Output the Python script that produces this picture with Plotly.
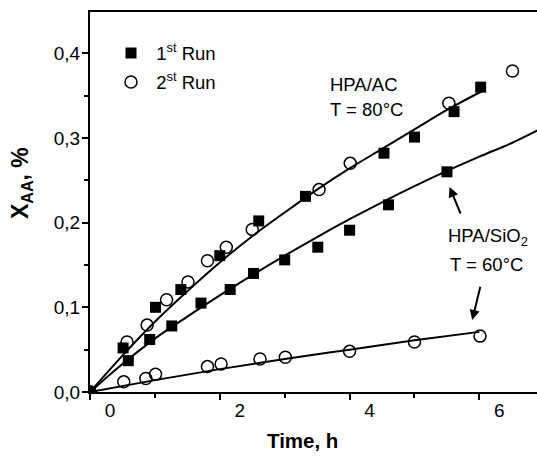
import plotly.graph_objects as go

# ---- data ----
# HPA/AC, 1st run (squares)
ac1_t = [0, 0.51, 1.01, 1.40, 2.00, 2.60, 3.32, 4.53, 5.00, 5.61, 6.02]
ac1_x = [0, 0.052, 0.100, 0.121, 0.161, 0.202, 0.231, 0.282, 0.301, 0.331, 0.360]
# HPA/AC, 2nd run (circles)
ac2_t = [0, 0.57, 0.88, 1.18, 1.51, 1.81, 2.10, 2.50, 3.53, 4.01, 5.53, 6.51]
ac2_x = [0, 0.059, 0.079, 0.109, 0.130, 0.155, 0.171, 0.192, 0.239, 0.270, 0.341, 0.379]
# HPA/SiO2, 1st run (squares)
si1_t = [0, 0.59, 0.92, 1.26, 1.71, 2.16, 2.52, 3.00, 3.51, 4.00, 4.60, 5.50]
si1_x = [0, 0.037, 0.062, 0.078, 0.105, 0.121, 0.140, 0.156, 0.171, 0.191, 0.221, 0.260]
# HPA/SiO2, 2nd run (circles)
si2_t = [0, 0.52, 0.86, 1.01, 1.81, 2.02, 2.62, 3.01, 4.00, 5.00, 6.01]
si2_x = [0, 0.012, 0.016, 0.021, 0.030, 0.033, 0.039, 0.041, 0.048, 0.059, 0.066]

# fitted curves
fit_ac_t = [0, 0.5, 1.0, 1.5, 2.0, 2.5, 3.0, 3.5, 4.0, 4.5, 5.0, 5.5, 6.06]
fit_ac_x = [0, 0.043, 0.083, 0.119, 0.153, 0.184, 0.212, 0.239, 0.264, 0.287, 0.310, 0.333, 0.356]
fit_si_t = [0, 0.5, 1.0, 1.5, 2.0, 2.5, 3.0, 3.5, 4.0, 4.5, 5.0, 5.5, 6.0, 6.5, 6.9]
fit_si_x = [0, 0.033, 0.063, 0.089, 0.114, 0.138, 0.161, 0.183, 0.204, 0.224, 0.243, 0.261, 0.278, 0.294, 0.309]
fit_si2_t = [0, 1, 2, 3, 4, 5, 6.0]
fit_si2_x = [0, 0.014, 0.027, 0.039, 0.050, 0.061, 0.071]

x_ticks = [0, 2, 4, 6]
x_ticklabels = ["0", "2", "4", "6"]
y_ticks = [0.0, 0.1, 0.2, 0.3, 0.4]

FONT = "Arial, 'Liberation Sans', sans-serif"

fig = go.Figure()

# fit lines
for t, x in [(fit_ac_t, fit_ac_x), (fit_si_t, fit_si_x), (fit_si2_t, fit_si2_x)]:
    fig.add_trace(go.Scatter(x=t, y=x, mode="lines", line=dict(color="black", width=2, shape="spline"),
                             showlegend=False, hoverinfo="skip"))

circ = dict(symbol="circle-open", size=12, color="black", line=dict(width=1.5, color="black"))
sq = dict(symbol="square", size=11, color="black")

fig.add_trace(go.Scatter(x=ac2_t, y=ac2_x, mode="markers", marker=circ, name="&nbsp;2<sup>st</sup> Run",
                         legendgroup="r2", legendrank=2))
fig.add_trace(go.Scatter(x=si2_t, y=si2_x, mode="markers", marker=circ, showlegend=False, legendgroup="r2"))
fig.add_trace(go.Scatter(x=ac1_t, y=ac1_x, mode="markers", marker=sq, name="&nbsp;1<sup>st</sup> Run",
                         legendgroup="r1", legendrank=1))
fig.add_trace(go.Scatter(x=si1_t, y=si1_x, mode="markers", marker=sq, showlegend=False, legendgroup="r1"))

annos = [
    dict(x=3.67, y=0.363, text="HPA/AC", xanchor="left", yanchor="middle"),
    dict(x=3.67, y=0.333, text="T = 80°C", xanchor="left", yanchor="middle"),
    dict(x=5.48, y=0.183, text="HPA/SiO<sub>2</sub>", xanchor="left", yanchor="middle"),
    dict(x=5.52, y=0.151, text="T = 60°C", xanchor="left", yanchor="middle"),
]
for a in annos:
    fig.add_annotation(**a, xref="x", yref="y", showarrow=False, font=dict(family=FONT, size=18.5, color="black"))

# arrows
fig.add_annotation(x=5.54, y=0.242, ax=5.72, ay=0.209, xref="x", yref="y", axref="x", ayref="y",
                   text="", showarrow=True, arrowhead=2, arrowsize=1, arrowwidth=2, arrowcolor="black")
fig.add_annotation(x=5.89, y=0.085, ax=6.02, ay=0.126, xref="x", yref="y", axref="x", ayref="y",
                   text="", showarrow=True, arrowhead=2, arrowsize=1, arrowwidth=2, arrowcolor="black")

# axis titles as annotations
fig.add_annotation(x=-0.152, y=0.55, xref="paper", yref="paper", text="<b>X<sub>AA</sub>, %</b>",
                   xanchor="center", yanchor="middle",
                   textangle=-90, showarrow=False, font=dict(family=FONT, size=23, color="black"))
fig.add_annotation(x=0.475, y=-0.162, xref="paper", yref="paper", text="<b>Time, h</b>",
                   showarrow=False, font=dict(family=FONT, size=20.5, color="black"))

fig.update_layout(
    width=537, height=457, autosize=False,
    margin=dict(l=90, r=0, t=12, b=65),
    paper_bgcolor="white", plot_bgcolor="white",
    separators=",.",
    font=dict(family=FONT, size=18, color="black"),
    legend=dict(x=0.047, y=0.941, xanchor="left", yanchor="top", bgcolor="rgba(0,0,0,0)",
                font=dict(family=FONT, size=18.5), traceorder="grouped", tracegroupgap=2),
    xaxis=dict(range=[0, 6.888], showline=True, linecolor="black", linewidth=2, mirror=True,
               showgrid=False, zeroline=False, ticks="outside", ticklen=6, tickwidth=2, tickcolor="black",
               tickvals=x_ticks, ticktext=x_ticklabels, ticklabelshift=20, ticklabelstandoff=-6,
               tickfont=dict(family=FONT, size=19, color="black"),
               minor=dict(dtick=1, tick0=0, ticks="outside", ticklen=4, tickwidth=2, tickcolor="black")),
    yaxis=dict(range=[0, 0.4487], showline=True, linecolor="black", linewidth=2, mirror=False,
               showgrid=False, zeroline=False, ticks="outside", ticklen=6, tickwidth=2, tickcolor="black",
               tickvals=y_ticks, tickformat=".1f", ticklabelstandoff=-2,
               tickfont=dict(family=FONT, size=19, color="black"),
               minor=dict(dtick=0.05, tick0=0, ticks="outside", ticklen=4, tickwidth=2, tickcolor="black")),
)

fig.write_html("out.html", config={"responsive": False, "displayModeBar": False},
               post_script="document.body.style.margin='0px';")
